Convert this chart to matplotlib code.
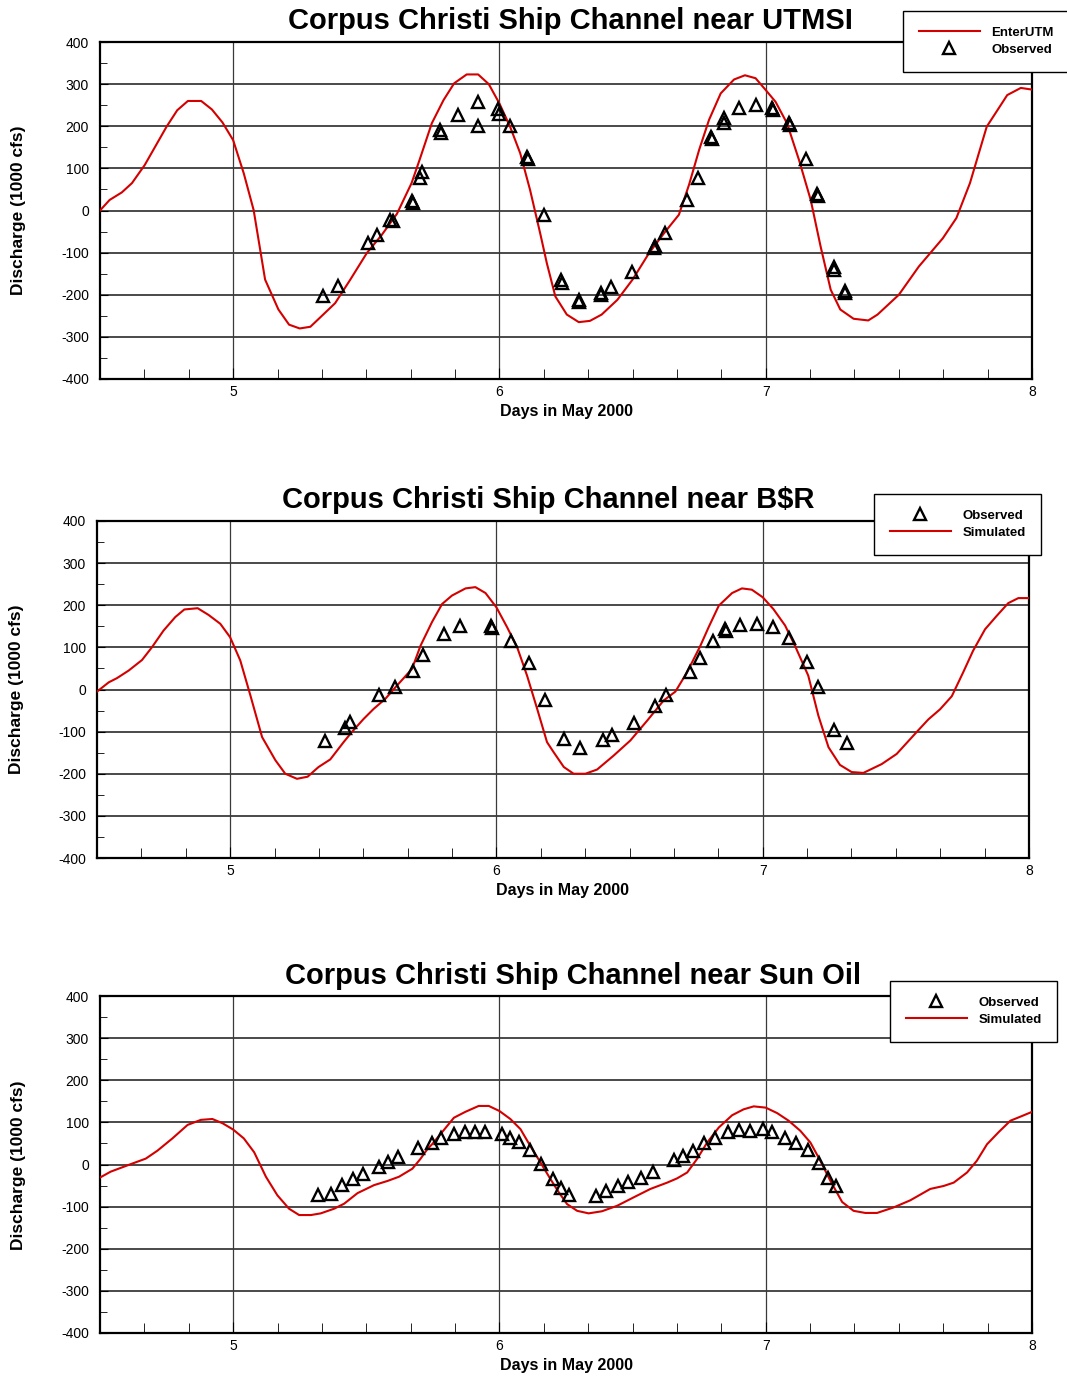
import matplotlib
matplotlib.use("Agg")
import matplotlib.pyplot as plt
from matplotlib.ticker import MultipleLocator, FixedLocator

plt.rcParams['font.family'] = ['Liberation Sans', 'DejaVu Sans']
plt.rcParams['axes.unicode_minus'] = False

W, H = 1067, 1376

# ---------------- data ----------------
titles = ["Corpus Christi Ship Channel near UTMSI",
          "Corpus Christi Ship Channel near B$R",
          "Corpus Christi Ship Channel near Sun Oil"]
sim_labels = ["EnterUTM", "Simulated", "Simulated"]
obs_label = "Observed"
x_label = "Days in May 2000"
y_label = "Discharge (1000 cfs)"
x_ticks = [5, 6, 7, 8]
y_ticks = [-400, -300, -200, -100, 0, 100, 200, 300, 400]

sim1_d = [4.5, 4.536, 4.582, 4.62, 4.668, 4.75, 4.79, 4.83, 4.88, 4.92, 4.96, 5.0, 5.04, 5.077,
          5.12, 5.17, 5.21, 5.25, 5.29, 5.32, 5.383, 5.44, 5.502, 5.558, 5.615, 5.67, 5.70, 5.746,
          5.79, 5.83, 5.877, 5.92, 5.96, 6.0, 6.04, 6.078, 6.115, 6.153, 6.178, 6.21, 6.253, 6.298,
          6.34, 6.384, 6.443, 6.5, 6.562, 6.618, 6.674, 6.712, 6.75, 6.787, 6.831, 6.881, 6.922,
          6.962, 7.0, 7.037, 7.08, 7.125, 7.169, 7.206, 7.244, 7.28, 7.33, 7.385, 7.42, 7.5, 7.575,
          7.665, 7.716, 7.767, 7.83, 7.907, 7.958, 8.0]
sim1_v = [0, 25, 43, 65, 108, 199, 238, 260, 260, 240, 209, 167, 88, 1,
          -164, -235, -271, -280, -276, -258, -220, -164, -101, -58, -8, 65, 120, 207,
          262, 302, 323, 323, 300, 254, 199, 136, 49, -54, -125, -204, -247, -265,
          -262, -247, -212, -164, -101, -54, -10, 61, 144, 215, 278, 311, 321,
          314, 286, 258, 207, 120, 25, -85, -188, -235, -257, -261, -247, -200, -133,
          -66, -18, 65, 199, 274, 291, 287]

obs1_d = [5.337, 5.393, 5.506, 5.542, 5.59, 5.60, 5.673, 5.676, 5.703, 5.708, 5.775, 5.78,
          5.846, 5.919, 5.919, 5.996, 6.0, 6.04, 6.103, 6.106, 6.168, 6.232, 6.234, 6.297,
          6.30, 6.38, 6.383, 6.418, 6.497, 6.58, 6.585, 6.622, 6.703, 6.744, 6.796, 6.798,
          6.844, 6.842, 6.9, 6.965, 7.025, 7.027, 7.088, 7.09, 7.153, 7.194, 7.196, 7.256,
          7.258, 7.297, 7.299]
obs1_v = [-202, -180, -76, -58, -22, -26, 22, 18, 77, 92, 191, 185,
          227, 258, 201, 240, 228, 201, 128, 122, -10, -164, -171, -213,
          -218, -200, -195, -182, -145, -89, -85, -54, 24, 78, 174, 170,
          219, 208, 243, 250, 244, 239, 207, 202, 122, 40, 35, -133,
          -141, -190, -196]

sim2_d = [4.5, 4.544, 4.575, 4.619, 4.669, 4.706, 4.75, 4.794, 4.828, 4.878, 4.919, 4.963, 5.0,
          5.038, 5.076, 5.12, 5.17, 5.207, 5.251, 5.291, 5.332, 5.376, 5.426, 5.457, 5.501, 5.539,
          5.583, 5.626, 5.683, 5.715, 5.758, 5.796, 5.833, 5.884, 5.921, 5.959, 6.0, 6.04, 6.078,
          6.115, 6.153, 6.19, 6.215, 6.253, 6.29, 6.334, 6.378, 6.44, 6.503, 6.566, 6.628, 6.672,
          6.716, 6.766, 6.797, 6.835, 6.885, 6.922, 6.959, 7.0, 7.04, 7.084, 7.121, 7.171, 7.209,
          7.247, 7.29, 7.334, 7.378, 7.447, 7.503, 7.578, 7.622, 7.666, 7.71, 7.753, 7.79, 7.835,
          7.879, 7.922, 7.96, 8.0]
sim2_v = [-5, 17, 27, 45, 70, 100, 140, 172, 190, 193, 177, 156, 124,
          69, -14, -113, -168, -200, -212, -207, -184, -166, -125, -101, -70, -46,
          -22, 9, 49, 104, 160, 203, 223, 240, 243, 229, 195, 148, 100,
          33, -46, -125, -149, -184, -200, -200, -190, -157, -121, -74, -26, -5,
          41, 104, 148, 199, 229, 240, 237, 219, 191, 152, 104, 33, -62,
          -137, -179, -196, -198, -177, -153, -101, -71, -47, -16, 41, 92, 143,
          175, 205, 217, 217]

obs2_d = [5.357, 5.432, 5.451, 5.56, 5.618, 5.686, 5.724, 5.802, 5.862, 5.981, 5.983, 6.055,
          6.121, 6.184, 6.253, 6.313, 6.4, 6.434, 6.516, 6.597, 6.638, 6.726, 6.766, 6.812,
          6.86, 6.862, 6.916, 6.977, 7.04, 7.1, 7.165, 7.209, 7.269, 7.315]
obs2_v = [-123, -92, -76, -13, 5, 44, 81, 132, 150, 150, 146, 116,
          63, -25, -117, -139, -119, -108, -80, -38, -14, 41, 75, 116,
          144, 140, 154, 156, 149, 122, 66, 6, -97, -127]

sim3_d = [4.5, 4.54, 4.616, 4.672, 4.716, 4.772, 4.829, 4.879, 4.922, 4.96, 5.0, 5.04, 5.079,
          5.123, 5.166, 5.21, 5.248, 5.292, 5.329, 5.379, 5.417, 5.467, 5.529, 5.58, 5.623, 5.673,
          5.703, 5.73, 5.747, 5.785, 5.829, 5.872, 5.922, 5.96, 6.0, 6.041, 6.079, 6.116, 6.154,
          6.192, 6.223, 6.254, 6.292, 6.335, 6.385, 6.442, 6.504, 6.567, 6.63, 6.667, 6.705, 6.742,
          6.78, 6.824, 6.874, 6.917, 6.955, 7.0, 7.043, 7.086, 7.13, 7.168, 7.205, 7.243, 7.287,
          7.33, 7.374, 7.418, 7.48, 7.543, 7.618, 7.668, 7.706, 7.756, 7.793, 7.831, 7.875, 7.919,
          7.962, 8.0]
sim3_v = [-31, -17, 1, 14, 33, 62, 94, 106, 108, 98, 83, 62, 29,
          -29, -73, -105, -120, -120, -116, -105, -93, -68, -49, -39, -29, -10,
          13, 37, 48, 77, 111, 125, 139, 139, 127, 108, 84, 44, 5,
          -35, -66, -94, -110, -116, -111, -98, -78, -58, -43, -33, -19, 13,
          52, 88, 117, 131, 138, 135, 122, 104, 80, 52, 9, -39, -89,
          -110, -115, -115, -102, -85, -58, -51, -43, -19, 9, 48, 77, 104,
          115, 125]

obs3_d = [5.319, 5.367, 5.41, 5.45, 5.488, 5.548, 5.583, 5.62, 5.695, 5.745, 5.782, 5.829,
          5.87, 5.907, 5.945, 6.01, 6.041, 6.075, 6.113, 6.156, 6.2, 6.233, 6.263, 6.363,
          6.4, 6.447, 6.482, 6.533, 6.576, 6.656, 6.688, 6.727, 6.77, 6.811, 6.857, 6.899,
          6.942, 6.989, 7.024, 7.074, 7.115, 7.159, 7.199, 7.233, 7.265]
obs3_v = [-73, -69, -49, -35, -23, -5, 7, 17, 40, 52, 64, 72,
          76, 78, 77, 72, 64, 54, 34, 1, -35, -56, -72, -74,
          -62, -52, -41, -31, -17, 11, 21, 32, 51, 64, 77, 82,
          80, 84, 76, 63, 51, 34, 3, -31, -52]

# ---------------- layout (pixels) ----------------
axes_px = [(100, 42, 1032, 379), (97, 521, 1029, 858), (100, 996, 1032, 1333)]
title_px = [(570, 21), (548, 500), (573, 976)]
ylabel_px = [(19, 210), (17, 689), (19, 1165)]
legend_px = [(903, 11), (874, 494), (890, 981)]
legend_order_sim_first = [True, False, False]

RED = '#d40000'
GRID = '#3a3a3a'

fig = plt.figure(figsize=(W / 100, H / 100), dpi=100)

panels = [(sim1_d, sim1_v, obs1_d, obs1_v),
          (sim2_d, sim2_v, obs2_d, obs2_v),
          (sim3_d, sim3_v, obs3_d, obs3_v)]

for i, (sd, sv, od, ov) in enumerate(panels):
    l, t, r, b = axes_px[i]
    ax = fig.add_axes([l / W, 1 - b / H, (r - l) / W, (b - t) / H])
    ax.set_xlim(4.5, 8)
    ax.set_ylim(-400, 400)

    for yv in y_ticks[1:-1]:
        ax.axhline(yv, color=GRID, lw=1.3, zorder=1)
    for xv in x_ticks[:-1]:
        ax.axvline(xv, color=GRID, lw=0.9, zorder=1)

    sim_line, = ax.plot(sd, sv, color=RED, lw=1.5, zorder=3)
    obs_pts, = ax.plot(od, ov, linestyle='none', marker='^', markersize=8,
                       markerfacecolor='none', markeredgecolor='black',
                       markeredgewidth=1.7, zorder=4)

    ax.xaxis.set_major_locator(FixedLocator(x_ticks))
    ax.xaxis.set_minor_locator(MultipleLocator(1 / 6))
    ax.yaxis.set_major_locator(FixedLocator(y_ticks))
    ax.yaxis.set_minor_locator(MultipleLocator(50))
    ax.tick_params(axis='both', which='both', direction='in', labelsize=10,
                   top=False, right=False, colors='black')
    ax.tick_params(axis='x', which='major', length=8, pad=4)
    ax.tick_params(axis='x', which='minor', length=7)
    ax.tick_params(axis='y', which='major', length=6, pad=8)
    ax.tick_params(axis='y', which='minor', length=5)
    for sp in ax.spines.values():
        sp.set_linewidth(1.6)
        sp.set_color('black')

    ax.set_xlabel(x_label, fontsize=11.5, fontweight='bold', labelpad=4)
    yx, yy = ylabel_px[i]
    fig.text(yx / W, 1 - yy / H, y_label, rotation=90, ha='center', va='center',
             fontsize=12.5, fontweight='bold')

    tx, ty = title_px[i]
    fig.text(tx / W, 1 - ty / H, titles[i], ha='center', va='center',
             fontsize=21, fontweight='bold')

    if legend_order_sim_first[i]:
        handles = [sim_line, obs_pts]
        labels = [sim_labels[i], obs_label]
    else:
        handles = [obs_pts, sim_line]
        labels = [obs_label, sim_labels[i]]
    lx, ly = legend_px[i]
    leg = ax.legend(handles, labels, loc='upper left',
                    bbox_to_anchor=(lx / W, 1 - ly / H), bbox_transform=fig.transFigure,
                    prop={'weight': 'bold', 'size': 9.5, 'family': 'Liberation Sans'},
                    frameon=True, fancybox=False, framealpha=1, edgecolor='black',
                    borderpad=1.2, handlelength=4.6, handletextpad=0.9,
                    labelspacing=0.35, borderaxespad=0)
    leg.get_frame().set_linewidth(1.0)
    leg.set_zorder(10)

fig.savefig('out.png', dpi=100)
